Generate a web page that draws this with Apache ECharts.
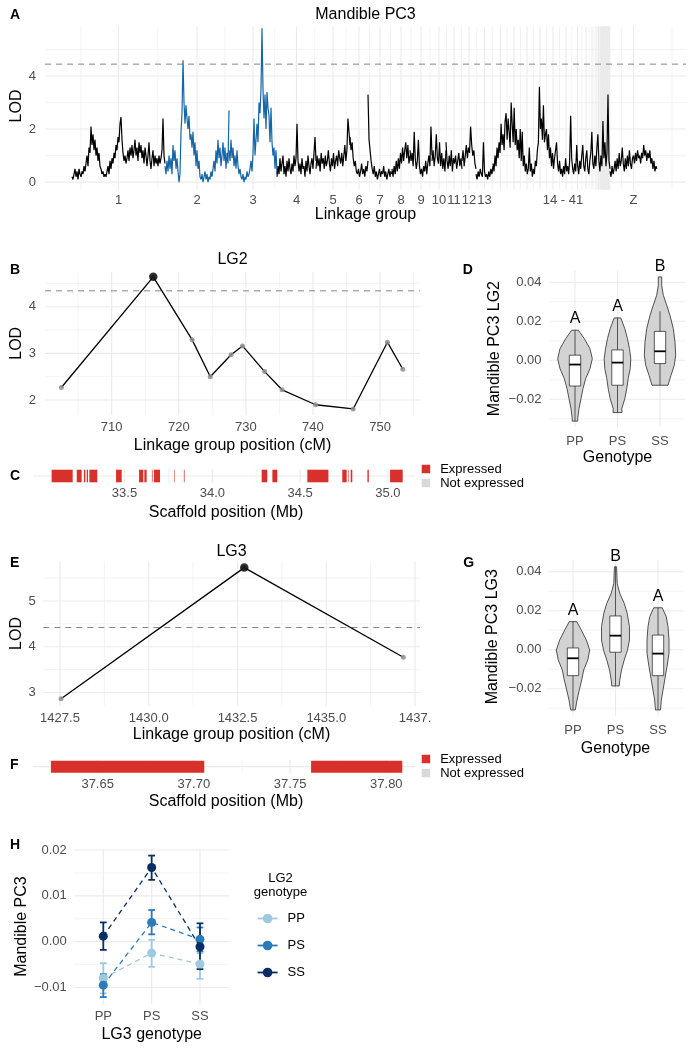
<!DOCTYPE html>
<html><head><meta charset="utf-8">
<script src="https://cdn.jsdelivr.net/npm/echarts@6/dist/echarts.min.js"></script>
<style>html,body{margin:0;padding:0;background:#fff}#c{width:699px;height:1050px}</style>
</head><body><div id="c"></div>
<script>
const FONT = '"Liberation Sans", Arial, Helvetica, sans-serif';
const RED = '#d8302a', KEYGREY = '#d9d9d9', BLUE = '#1565a8';

// ---------- Panel A: genome scan ----------
const lgLengthsA = [93,64,48,39,34,18,24,18,22,14,16,14,17,
  14.5,13,13,13,13,13,10,7,5,3,2,1.5,1,1,0.5,0.5,0.5,0.5,0.5,0.5,0.5,0.5,0.5,0.5,0.5,0.5,0.5,0.5,
  47];
const genomeStartA = 27;
const xTickLabelsA = ['1','2','3','4','5','6','7','8','9','10','11','12','13','14 - 41','Z'];
const groupLabelPosA = 518;
const extraMinorA = [36, 627];
const thrA = 4.45;
const lodLG1 = [0.2,0.1,0.3,0.5,0.2,0.4,0.1,0.5,0.3,0.2,0.4,0.3,0.6,0.4,0.7,1.0,0.6,1.3,1.1,
 2.1,1.4,1.8,1.2,1.6,1.0,1.3,0.8,1.1,0.6,0.5,0.3,0.4,0.2,0.3,0.2,0.4,0.6,0.3,0.8,0.5,0.9,0.7,
 1.1,0.9,1.4,1.2,1.7,1.5,2.2,2.45,1.6,1.1,0.8,1.0,0.7,
 0.9,1.2,0.8,1.3,1.0,1.4,0.9,1.2,1.6,1.0,1.3,0.8,1.5,1.1,1.4,0.9,1.2,0.7,1.3,1.0,
 0.6,1.0,1.5,0.8,0.5,0.9,1.2,0.6,1.0,0.7,0.9,0.6,1.0,0.7,0.9,1.2,2.4,1.0,0.7];
const lodLG2 = [0.6,0.3,0.8,0.4,1.0,0.5,0.9,0.3,1.4,0.8,1.2,0.5,0.9,0.4,0.0,0.3,1.9,2.6,4.6,
 3.0,2.2,2.9,2.4,2.0,2.5,1.6,1.8,1.3,1.9,1.0,1.5,0.6,1.2,0.5,0.8,0.2,
 0.1,0.3,0.0,0.2,0.4,0.1,0.3,0.0,0.2,0.1,0.4,0.2,0.5,0.8,0.4,1.2,0.7,1.6,0.9,1.3,0.6,
 1.0,1.5,0.8,1.3,0.5,1.1,0.7,2.7];
const lodLG3 = [1.2,0.8,1.6,0.9,1.3,0.6,1.0,0.5,1.2,0.6,0.3,0.5,0.2,0.1,0.3,0.0,0.2,0.1,0.4,0.2,0.3,0.5,
 0.8,0.4,1.1,2.4,1.0,1.6,2.2,1.5,3.0,2.6,3.5,5.8,3.5,2.4,3.3,2.0,3.4,2.8,
 2.5,1.5,2.8,1.5,1.0,1.3,0.5,1.2,0.3];
const lodLG4 = [0.2,0.6,0.3,0.9,0.4,0.7,1.0,0.3,0.6,0.2,0.8,0.4,0.9,0.5,0.3,0.7,0.4,1.0,0.6,0.9,2.2,
 0.8,0.4,0.7,0.3,0.9,0.5,0.6,0.2,0.8,0.4,1.0,0.6,0.3,0.7,0.9,0.5,1.1,1.7,0.8];
const lodLG5 = [0.5,1.0,0.6,0.9,0.4,1.1,0.7,0.9,0.5,1.0,0.6,0.8,1.2,0.7,0.4,0.9,0.6,1.1,0.5,0.8,1.0,0.6,1.2,0.9,
 0.7,1.1,0.6,1.0,1.4,0.8,1.2,2.4,1.9,1.4];
const lodLG6 = [1.7,1.2,1.5,0.9,0.6,0.8,0.4,0.3,0.5,0.2,0.4,0.7,0.3,0.5,0.2,0.6,0.4,0.8];
const lodLG7 = [3.3,1.6,1.2,0.8,0.5,0.3,0.6,0.2,0.4,0.1,0.3,0.5,0.2,0.4,0.3,0.6,0.2,0.4,0.1,0.3,0.5,0.2,0.4,0.3];
const lodLG8 = [0.5,0.2,0.6,0.3,0.8,0.4,0.9,0.5,1.1,0.7,1.3,0.8,1.2,1.5,0.9,1.4,0.7,1.0];
const lodLG9 = [1.2,0.8,1.1,0.6,1.9,0.9,0.5,0.8,1.6,0.6,0.3,0.5,0.2,0.6,0.4,0.8,0.3,0.7,1.0,0.6,2.1,1.0];
const lodLG10 = [0.8,1.2,0.6,1.0,1.8,0.9,0.7,1.5,0.6,1.1,0.5,0.9,0.4,1.2];
const lodLG11 = [1.5,0.8,0.5,1.0,0.6,1.2,0.4,0.9,0.7,1.0,0.5,0.8,1.1,0.6,0.9,0.5];
const lodLG12 = [0.8,1.2,0.6,1.0,1.4,0.9,1.3,1.1,2.1,1.4,1.0,1.2,0.7,0.5];
const lodLG13 = [0.3,0.1,0.4,0.2,0.5,0.3,0.2,1.5,0.4,0.2,0.3,0.1,0.4,0.2,0.5,0.3,0.6];
const lodLG14to41 = [0.7,0.4,1.0,0.6,1.3,0.9,1.5,
 1.1,2.2,1.4,1.8,1.2,2.3,2.6,1.6,2.4,1.9,1.3,3.0,2.2,1.5,2.8,1.4,2.0,1.2,1.6,0.9,2.0,
 0.8,1.9,0.6,1.0,0.4,0.7,0.3,0.5,1.3,0.4,0.7,0.2,0.5,0.3,0.8,0.6,1.2,1.5,
 3.6,2.0,2.4,1.6,2.9,1.5,1.8,2.0,
 1.2,1.8,0.9,1.3,0.6,1.1,0.5,0.9,1.2,1.5,0.7,0.4,0.8,0.3,0.5,0.2,0.6,0.3,0.9,0.4,0.6,0.3,0.8,
 2.5,
 0.9,0.5,0.3,0.7,0.4,1.4,0.6,0.3,0.8,0.5,1.0,1.4,0.6,0.4,0.9,1.2,0.5,0.3,0.8,1.1,1.9,0.7,0.5,1.0,0.6,1.3,1.8,0.8,0.4,1.0,0.6,
 2.3,
 0.9,1.5,0.6,1.1,3.3,0.8,0.5];
const lodLGZ = [0.4,0.2,0.6,0.3,0.5,0.8,0.4,0.9,0.5,1.1,0.6,0.8,1.3,0.7,0.4,0.9,0.5,1.0,0.6,1.2,0.7,0.5,0.9,1.0,
 0.7,1.1,0.8,1.2,0.9,1.0,0.7,1.1,0.9,1.4,1.0,1.2,0.8,1.1,0.9,1.2,0.7,0.9,0.5,0.8,0.4,0.6,0.5];
// segments: [values, first LG index, last LG index, highlighted]
const segmentsA = [[lodLG1,0,0,false],[lodLG2,1,1,true],[lodLG3,2,2,true],[lodLG4,3,3,false],[lodLG5,4,4,false],
 [lodLG6,5,5,false],[lodLG7,6,6,false],[lodLG8,7,7,false],[lodLG9,8,8,false],[lodLG10,9,9,false],[lodLG11,10,10,false],
 [lodLG12,11,11,false],[lodLG13,12,12,false],[lodLG14to41,13,40,false],[lodLGZ,41,41,false]];

// ---------- Panel B: LG2 ----------
const cmLG2 = [702.5,716.2,722.0,724.7,727.8,729.5,732.8,735.4,740.4,746.0,751.1,753.4];
const lodLG2markers = [2.27,4.64,3.29,2.50,2.97,3.16,2.61,2.22,1.90,1.81,3.24,2.66];
const thrB = 4.34;
const xTicksB = [710,720,730,740,750];
const yTicksB = [2,3,4];

// ---------- Panel C: LG2 scaffold ----------
const exprC = [[33.085,33.205],[33.228,33.256],[33.269,33.277],[33.285,33.292],[33.300,33.345],[33.452,33.484],
 [33.583,33.607],[33.613,33.626],[33.656,33.660],[33.668,33.702],[33.784,33.787],[33.838,33.842],
 [34.281,34.313],[34.342,34.370],[34.541,34.661],[34.740,34.765],[34.773,34.776],[34.788,34.797],
 [34.883,34.891],[35.012,35.084]];
const xTicksC = [33.5,34.0,34.5,35.0];

// ---------- Panel D: violins LG2 ----------
const genotypes = ['PP','PS','SS'];
const violinD_PP = [[0.0154,0.078],[0.0111,0.219],[0.0059,0.353],[0.0008,0.407],[-0.0043,0.353],[-0.0094,0.252],[-0.0145,0.188],[-0.0197,0.141],[-0.0248,0.094],[-0.0299,0.064],[-0.0312,0.064]];
const violinD_PS = [[0.0217,0.078],[0.0162,0.172],[0.0111,0.235],[0.0059,0.282],[0.0008,0.313],[-0.0043,0.299],[-0.0094,0.252],[-0.0145,0.219],[-0.0197,0.172],[-0.0248,0.101],[-0.0268,0.106]];
const violinD_SS = [[0.0427,0.04],[0.0384,0.04],[0.0333,0.078],[0.0282,0.158],[0.023,0.235],[0.0162,0.313],[0.0094,0.353],[0.0026,0.369],[-0.0026,0.336],[-0.0077,0.259],[-0.0128,0.188]];
// [lower whisker, q1, median, q3, upper whisker]
const boxD = [[-0.0312,-0.0132,-0.0022,0.0026,0.0154],[-0.0268,-0.0128,-0.0012,0.0053,0.0217],[-0.0128,-0.0017,0.0046,0.0148,0.0251]];
const lettersD = ['A','A','B'];
const letterPosD = [0.0213,0.0276,0.0478];

// ---------- Panel E: LG3 ----------
const cmLG3 = [1427.53,1432.69,1437.17];
const lodLG3markers = [2.86,5.73,3.77];
const thrE = 4.42;
const xTicksE = [1427.5,1430,1432.5,1435,1437.5];
const xTickLabelsE = ['1427.5','1430.0','1432.5','1435.0','1437.'];
const yTicksE = [3,4,5];

// ---------- Panel F: LG3 scaffold ----------
const exprF = [[37.6257,37.7054],[37.7609,37.8083]];
const xTicksF = [37.65,37.70,37.75,37.80];

// ---------- Panel G: violins LG3 ----------
const violinG_PP = [[0.0144,0.087],[0.0101,0.195],[0.005,0.313],[-0.0002,0.393],[-0.0053,0.346],[-0.0104,0.252],[-0.0155,0.205],[-0.0207,0.148],[-0.0258,0.094],[-0.0309,0.054]];
const violinG_PS = [[0.0425,0.025],[0.034,0.04],[0.0289,0.101],[0.0238,0.205],[0.0187,0.275],[0.0118,0.329],[0.005,0.329],[-0.0002,0.282],[-0.0053,0.205],[-0.0104,0.141],[-0.0155,0.101],[-0.0186,0.087]];
const violinG_SS = [[0.0215,0.099],[0.0169,0.195],[0.0118,0.235],[0.005,0.259],[-0.0018,0.259],[-0.0087,0.212],[-0.0155,0.158],[-0.0207,0.118],[-0.0258,0.078],[-0.0309,0.059]];
const boxG = [[-0.0309,-0.0133,-0.0044,0.0009,0.0144],[-0.0186,-0.0013,0.0072,0.0173,0.0425],[-0.0309,-0.0133,-0.002,0.0075,0.0215]];
const lettersG = ['A','B','A'];
const letterPosG = [0.0198,0.0477,0.0272];
const yTicksDG = [-0.02,0,0.02,0.04];

// ---------- Panel H: interaction ----------
const hGroups = ['PP','PS','SS'];
const hColors = ['#9ecae1','#2b7bba','#0b2d66'];
const hMean = [[-0.0080,-0.0025,-0.0049],[-0.0095,0.0042,0.0005],[0.0012,0.0162,-0.0011]];
const hLow  = [[-0.0113,-0.0055,-0.0081],[-0.0121,0.0016,-0.0021],[-0.0018,0.0135,-0.0060]];
const hHigh = [[-0.0047,0.0004,-0.0025],[-0.0071,0.0069,0.0031],[0.0042,0.0188,0.0040]];
const yTicksH = [-0.01,0,0.01,0.02];

// ================= build =================
const lgStartsA = [genomeStartA];
lgLengthsA.forEach((l,i)=>lgStartsA.push(lgStartsA[i]+l));
const lgMidsA = lgLengthsA.map((l,i)=>lgStartsA[i]+l/2);
const minorA = lgMidsA.slice(1).map((m,i)=>(m+lgMidsA[i])/2).concat(extraMinorA);
const xLabPosA = lgMidsA.slice(0,13).concat([groupLabelPosA, lgMidsA[41]]);

const minus = v => (v < -1e-9 ? '\u2212' : '') + Math.abs(v).toFixed(2);
const nearestLabel = (positions, labels) => v => {
  let b = 0; positions.forEach((p,i)=>{ if (Math.abs(p-v) < Math.abs(positions[b]-v)) b = i; });
  return labels[b];
};

function vAxis(gi, min, max, custom, fmt, margin) {
  return {type:'value', gridIndex:gi, min, max, scale:false,
    axisLine:{show:false}, axisTick:{show:false}, splitLine:{show:false}, minorSplitLine:{show:false},
    axisLabel:{show: custom.length>0, customValues: custom, formatter: fmt, color:'#4d4d4d', fontSize:13, fontFamily:FONT, margin}};
}
function gridLines(gi, xr, yr, xMaj, xMin, yMaj, yMin) {
  const data = [];
  xMaj.forEach(v=>data.push([v, yr[0], 0, 0]));
  xMin.forEach(v=>data.push([v, yr[0], 0, 1]));
  yMaj.forEach(v=>data.push([xr[0], v, 1, 0]));
  yMin.forEach(v=>data.push([xr[0], v, 1, 1]));
  return {type:'custom', xAxisIndex:gi, yAxisIndex:gi, silent:true, z:0, animation:false, data,
    renderItem:(params, api)=>{
      const cs = params.coordSys;
      const p = api.coord([api.value(0), api.value(1)]);
      const style = {stroke:'#ebebeb', lineWidth: api.value(3)===1 ? 0.6 : 1.1};
      if (api.value(2) === 0) return {type:'line', shape:{x1:p[0], y1:cs.y, x2:p[0], y2:cs.y+cs.height}, style};
      return {type:'line', shape:{x1:cs.x, y1:p[1], x2:cs.x+cs.width, y2:p[1]}, style};
    }};
}
function dashed(gi, xr, v) {
  return {type:'line', xAxisIndex:gi, yAxisIndex:gi, data:[[xr[0],v],[xr[1],v]], symbol:'none', silent:true, z:2,
    lineStyle:{color:'#858585', width:1, type:[6,5]}};
}
function rectSeries(gi, name, data, color) {
  return {type:'custom', name, xAxisIndex:gi, yAxisIndex:gi, silent:true, z:3, itemStyle:{color},
    data: data.map(d=>[d[0], 0.5, d[1]]),
    renderItem:(params, api)=>{
      const a = api.coord([api.value(0), 0.95]), b = api.coord([api.value(2), 0.05]);
      return {type:'rect', shape:{x:a[0], y:a[1], width:Math.max(b[0]-a[0],0.3), height:b[1]-a[1]}, style:{fill:color}};
    }};
}
const BOXW = 0.134;
function violinSeries(gi, profiles, boxes) {
  return {type:'custom', xAxisIndex:gi, yAxisIndex:gi, silent:true, z:3,
    data: boxes.map((b,i)=>[i+1, b[2]]),
    renderItem:(params, api)=>{
      const i = params.dataIndex, c = api.value(0), prof = profiles[i], b = boxes[i];
      const right = prof.map(([v,w])=>api.coord([c+w, v]));
      const left = prof.slice().reverse().map(([v,w])=>api.coord([c-w, v]));
      const top = api.coord([c, b[4]]), bot = api.coord([c, b[0]]);
      const q3 = api.coord([c-BOXW, b[3]]), q1 = api.coord([c+BOXW, b[1]]);
      const mL = api.coord([c-BOXW, b[2]]), mR = api.coord([c+BOXW, b[2]]);
      return {type:'group', children:[
        {type:'polygon', shape:{points:right.concat(left)}, style:{fill:'#d3d3d3', stroke:'#404040', lineWidth:0.9}},
        {type:'line', shape:{x1:top[0], y1:top[1], x2:bot[0], y2:bot[1]}, style:{stroke:'#333', lineWidth:0.8}},
        {type:'rect', shape:{x:q3[0], y:q3[1], width:q1[0]-q3[0], height:q1[1]-q3[1]}, style:{fill:'#fff', stroke:'#333', lineWidth:0.8}},
        {type:'line', shape:{x1:mL[0], y1:mL[1], x2:mR[0], y2:mR[1]}, style:{stroke:'#000', lineWidth:1.8}}
      ]};
    }};
}
function letterSeries(gi, letters, pos) {
  return {type:'custom', xAxisIndex:gi, yAxisIndex:gi, silent:true, z:4,
    data: pos.map((v,i)=>[i+1, v]),
    renderItem:(params, api)=>{
      const p = api.coord([api.value(0), api.value(1)]);
      return {type:'text', x:p[0], y:p[1], style:{text:letters[params.dataIndex], font:'16px '+FONT, fill:'#000',
        textAlign:'center', textVerticalAlign:'middle', align:'center', verticalAlign:'middle'}};
    }};
}
function txt(x, y, s, o) {
  o = o || {};
  return {type:'text', x, y, rotation: o.rot ? Math.PI/2 : 0, silent:true, z:10,
    style:{text:s, font:(o.bold?'bold ':'')+(o.size||16)+'px '+FONT, fill:o.color||'#000',
      textAlign:o.align||'center', textVerticalAlign:'middle', align:o.align||'center', verticalAlign:'middle'}};
}

const xrA=[0,641], yrA=[-0.28,5.87];
const xrB=[700.06,755.96], yrB=[1.68,4.75];
const xrC=[32.979,35.154], yrC=[0,1];
const xrD=[0.4,3.6], yrD=[-0.0342,0.0461];
const xrE=[1427.03,1437.64], yrE=[2.71,5.87];
const xrF=[37.6164,37.8149], yrF=[0,1];
const xrG=[0.4,3.6], yrG=[-0.034,0.046];
const xrH=[0.4,3.6], yrH=[-0.0137,0.0203];

const series = [];
series.push(gridLines(0, xrA, yrA, lgMidsA, minorA, [0,2,4], [1,3,5]));
series.push(gridLines(1, xrB, yrB, xTicksB, [705,715,725,735,745,755], yTicksB, [2.5,3.5,4.5]));
series.push(gridLines(2, xrC, yrC, xTicksC, [33.25,33.75,34.25,34.75], [0.5], []));
series.push(gridLines(3, xrD, yrD, [1,2,3], [], yTicksDG, [-0.03,-0.01,0.01,0.03]));
series.push(gridLines(4, xrE, yrE, xTicksE, [1428.75,1431.25,1433.75,1436.25], yTicksE, [3.5,4.5,5.5]));
series.push(gridLines(5, xrF, yrF, xTicksF, [37.625,37.675,37.725,37.775], [0.5], []));
series.push(gridLines(6, xrG, yrG, [1,2,3], [], yTicksDG, [-0.03,-0.01,0.01,0.03]));
series.push(gridLines(7, xrH, yrH, [1,2,3], [], yTicksH, [-0.005,0.005,0.015]));

// A
series.push(dashed(0, xrA, thrA));
segmentsA.forEach(([vals, a, b, hi])=>{
  const s = lgStartsA[a], e = lgStartsA[b+1], step = (e-s)/(vals.length-1);
  series.push({type:'line', xAxisIndex:0, yAxisIndex:0, data: vals.map((v,i)=>[s+i*step, v]), symbol:'none', silent:true, z:3,
    lineStyle:{color: hi ? BLUE : '#000', width:1.2}});
});
// B
function scanSeries(gi, xs, ys) {
  const pts = xs.map((x,i)=>[x, ys[i]]);
  let pk = 0; ys.forEach((v,i)=>{ if (v > ys[pk]) pk = i; });
  return [
    {type:'line', xAxisIndex:gi, yAxisIndex:gi, data:pts, symbol:'none', silent:true, z:3, lineStyle:{color:'#000', width:1.3}},
    {type:'scatter', xAxisIndex:gi, yAxisIndex:gi, data:pts, symbolSize:5, silent:true, z:4, itemStyle:{color:'#8f8f8f', opacity:0.85}},
    {type:'scatter', xAxisIndex:gi, yAxisIndex:gi, data:[pts[pk]], symbolSize:8.5, silent:true, z:5, itemStyle:{color:'#000'}}
  ];
}
series.push(dashed(1, xrB, thrB));
series.push(...scanSeries(1, cmLG2, lodLG2markers));
// C
series.push(rectSeries(2, 'Expressed', exprC, RED));
series.push({type:'custom', name:'Not expressed', xAxisIndex:2, yAxisIndex:2, data:[], itemStyle:{color:KEYGREY}, renderItem:()=>null});
// D
series.push(violinSeries(3, [violinD_PP, violinD_PS, violinD_SS], boxD));
series.push(letterSeries(3, lettersD, letterPosD));
// E
series.push(dashed(4, xrE, thrE));
series.push(...scanSeries(4, cmLG3, lodLG3markers));
// F
series.push(rectSeries(5, 'Expressed', exprF, RED));
series.push({type:'custom', name:'Not expressed', xAxisIndex:5, yAxisIndex:5, data:[], itemStyle:{color:KEYGREY}, renderItem:()=>null});
// G
series.push(violinSeries(6, [violinG_PP, violinG_PS, violinG_SS], boxG));
series.push(letterSeries(6, lettersG, letterPosG));
// H
const errData = [];
hGroups.forEach((g,gi)=>hMean[gi].forEach((m,j)=>errData.push([j+1, m, hLow[gi][j], hHigh[gi][j], gi])));
series.push({type:'custom', xAxisIndex:7, yAxisIndex:7, silent:true, z:3, data:errData,
  renderItem:(params, api)=>{
    const x = api.value(0), col = hColors[api.value(4)];
    const lo = api.coord([x, api.value(2)]), hi = api.coord([x, api.value(3)]);
    const cl = api.coord([x-0.07, api.value(2)]), cr = api.coord([x+0.07, api.value(2)]);
    const tl = api.coord([x-0.07, api.value(3)]), tr = api.coord([x+0.07, api.value(3)]);
    const st = {stroke:col, lineWidth:1.8};
    return {type:'group', children:[
      {type:'line', shape:{x1:lo[0], y1:lo[1], x2:hi[0], y2:hi[1]}, style:st},
      {type:'line', shape:{x1:cl[0], y1:cl[1], x2:cr[0], y2:cr[1]}, style:st},
      {type:'line', shape:{x1:tl[0], y1:tl[1], x2:tr[0], y2:tr[1]}, style:st}]};
  }});
hGroups.forEach((g,gi)=>{
  series.push({type:'line', name:g, xAxisIndex:7, yAxisIndex:7, data:hMean[gi].map((m,j)=>[j+1,m]), symbol:'circle', symbolSize:9,
    showSymbol:true, silent:true, z:4+gi, itemStyle:{color:hColors[gi]}, lineStyle:{color:hColors[gi], width:1.3, type:[5,4]}});
});

const option = {
  animation:false,
  backgroundColor:'#fff',
  textStyle:{fontFamily:FONT},
  grid:[
    {left:45, top:26.5, width:641, height:163},
    {left:45, top:271.7, width:375, height:143.3},
    {left:33, top:469, width:382, height:14},
    {left:549.5, top:270.3, width:136, height:156.7},
    {left:43.3, top:561.2, width:376.7, height:144.5},
    {left:33, top:760, width:382, height:13.3},
    {left:547.5, top:560, width:136, height:156},
    {left:74.3, top:848.7, width:154.7, height:155.7}
  ].map(g=>Object.assign(g,{containLabel:false, outerBoundsMode:'none'})),
  xAxis:[
    vAxis(0, xrA[0], xrA[1], xLabPosA, nearestLabel(xLabPosA, xTickLabelsA), 4),
    vAxis(1, xrB[0], xrB[1], xTicksB, v=>String(Math.round(v)), 6),
    vAxis(2, xrC[0], xrC[1], xTicksC, v=>v.toFixed(1), 3.5),
    vAxis(3, xrD[0], xrD[1], [1,2,3], v=>genotypes[Math.round(v)-1], 8),
    vAxis(4, xrE[0], xrE[1], xTicksE, nearestLabel(xTicksE, xTickLabelsE), 6),
    vAxis(5, xrF[0], xrF[1], xTicksF, v=>v.toFixed(2), 5),
    vAxis(6, xrG[0], xrG[1], [1,2,3], v=>genotypes[Math.round(v)-1], 7.5),
    vAxis(7, xrH[0], xrH[1], [1,2,3], v=>hGroups[Math.round(v)-1], 6)
  ],
  yAxis:[
    vAxis(0, yrA[0], yrA[1], [0,2,4], v=>String(Math.round(v)), 9),
    vAxis(1, yrB[0], yrB[1], yTicksB, v=>String(Math.round(v)), 9),
    vAxis(2, yrC[0], yrC[1], [], null, 0),
    vAxis(3, yrD[0], yrD[1], yTicksDG, minus, 8),
    vAxis(4, yrE[0], yrE[1], yTicksE, v=>String(Math.round(v)), 7.5),
    vAxis(5, yrF[0], yrF[1], [], null, 0),
    vAxis(6, yrG[0], yrG[1], yTicksDG, minus, 6),
    vAxis(7, yrH[0], yrH[1], yTicksH, minus, 7.5)
  ],
  legend:[
    {data:['Expressed','Not expressed'], orient:'vertical', left:421.7, top:462.5, icon:'rect', itemWidth:8.5, itemHeight:8.5, itemGap:1,
      selectedMode:false, padding:0, textStyle:{fontSize:13, color:'#000', fontFamily:FONT, padding:[0,0,0,5]}},
    {data:['Expressed','Not expressed'], orient:'vertical', left:421.7, top:752.5, icon:'rect', itemWidth:8.5, itemHeight:8.5, itemGap:1,
      selectedMode:false, padding:0, textStyle:{fontSize:13, color:'#000', fontFamily:FONT, padding:[0,0,0,5]}},
    {data:hGroups, orient:'vertical', left:256.7, top:912, itemWidth:20, itemHeight:12, itemGap:14,
      selectedMode:false, padding:0, lineStyle:{type:'solid', width:1.8}, textStyle:{fontSize:13, color:'#000', fontFamily:FONT, padding:[0,0,0,5]}}
  ],
  graphic:[
    txt(365.5,15,'Mandible PC3'), txt(10,15,'A',{bold:true,size:14,align:'left'}),
    txt(16.7,106,'LOD',{rot:true}), txt(365.5,215,'Linkage group'),
    txt(232.5,260,'LG2'), txt(10,270,'B',{bold:true,size:14,align:'left'}),
    txt(16.7,343.3,'LOD',{rot:true}), txt(232.5,445.7,'Linkage group position (cM)'),
    txt(10,476,'C',{bold:true,size:14,align:'left'}), txt(226,513,'Scaffold position (Mb)'),
    txt(462.7,270,'D',{bold:true,size:14,align:'left'}), txt(495,348.6,'Mandible PC3 LG2',{rot:true}), txt(617.5,458,'Genotype'),
    txt(231.5,551.7,'LG3'), txt(10,563,'E',{bold:true,size:14,align:'left'}),
    txt(16.7,633.5,'LOD',{rot:true}), txt(231.5,735,'Linkage group position (cM)'),
    txt(10,765.5,'F',{bold:true,size:14,align:'left'}), txt(226,801.7,'Scaffold position (Mb)'),
    txt(463.3,563,'G',{bold:true,size:14,align:'left'}), txt(493,636.7,'Mandible PC3 LG3',{rot:true}), txt(615.5,748.3,'Genotype'),
    txt(10,845,'H',{bold:true,size:14,align:'left'}), txt(21.7,926.5,'Mandible PC3',{rot:true}), txt(151.7,1035,'LG3 genotype'),
    txt(280.5,878,'LG2',{size:13}), txt(280.5,892.7,'genotype',{size:13})
  ],
  series
};
const chart = echarts.init(document.getElementById('c'), null, {renderer:'canvas'});
chart.setOption(option);
</script></body></html>
